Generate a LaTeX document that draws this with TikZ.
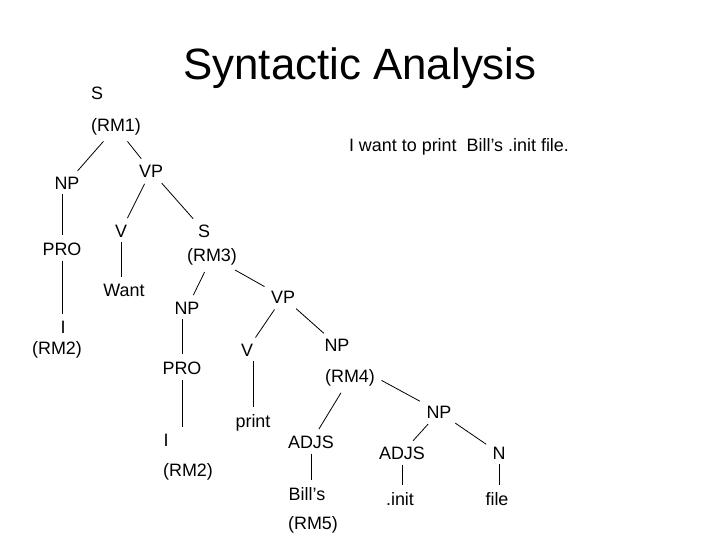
\documentclass[tikz,border=0pt]{standalone}
\usepackage{fontspec}
\setmainfont{Liberation Sans}
\begin{document}
\begin{tikzpicture}
[x=1bp, y=-1bp,
% STYLES
% The word style is used for the categories and words of the tree
word/.style={inner sep=2pt, font=\fontsize{18}{21}\selectfont},
% The branch style is used for the slanted links of a phrase to its parts
branch/.style={line width=0.8bp, shorten <=5bp, shorten >=5bp},
% The stem style is used for the vertical links down to a word
stem/.style={line width=0.8bp, shorten <=3bp, shorten >=5bp}]

\useasboundingbox (0,0) rectangle (720,540);

% Title and sentence
\node [font=\fontsize{44}{50}\selectfont] (title) at (360,68) {Syntactic Analysis};
\node [font=\fontsize{18}{21}\selectfont] (sentence) at (459,147) {I want to print\ \ Bill’s .init file.};

% Draw the main clause
\node [word] (s1) at (97,93) {S};
\node [word] (rm1) at (116,127) {(RM1)};
\node [word] (np1) at (67,183) {NP};
\node [word] (vp1) at (151,171) {VP};
\node [word] (pro1) at (62,249) {PRO};
\node [word] (i1) at (63,327) {I};
\node [word] (rm2a) at (57,350) {(RM2)};
\node [word] (v1) at (121,231) {V};
\node [word] (want) at (124,290) {Want};

% Draw the embedded clause
\node [word] (s3) at (204,231) {S};
\node [word] (rm3) at (212,257) {(RM3)};
\node [word] (np2) at (187,308) {NP};
\node [word] (vp2) at (283,297) {VP};
\node [word] (pro2) at (182,368) {PRO};
\node [word] (i2) at (166,440) {I};
\node [word] (rm2b) at (188,472) {(RM2)};
\node [word] (v2) at (247,350) {V};
\node [word] (print) at (253,423) {print};

% Draw the object
\node [word] (np3) at (337,345) {NP};
\node [word] (rm4) at (350,378) {(RM4)};
\node [word] (adjs1) at (311,442) {ADJS};
\node [word] (bills) at (307,494) {Bill’s};
\node [word] (rm5) at (313,525) {(RM5)};
\node [word] (np4) at (439,412) {NP};
\node [word] (adjs2) at (402,453) {ADJS};
\node [word] (init) at (400,499) {.init};
\node [word] (n) at (499,453) {N};
\node [word] (file) at (497,499) {file};

% Draw the links between phrases
\path[branch]
    (rm1) edge (np1)
    (rm1) edge (vp1)
    (vp1) edge (v1)
    (vp1) edge (s3)
    (rm3) edge (np2)
    (rm3) edge (vp2)
    (vp2) edge (v2)
    (vp2) edge (np3)
    (rm4) edge (adjs1)
    (rm4.east) edge (np4.north west)
    (np4) edge (adjs2)
    (np4) edge (n);

% Draw the links down to the words
\path[stem]
    (pro1 |- np1.south) edge (pro1.north)
    (pro1.south) edge (pro1 |- i1.north)
    (v1.south) edge (v1 |- want.north)
    (pro2 |- np2.south) edge (pro2.north)
    (pro2.south) edge (pro2 |- i2.north)
    (print |- v2.south) edge (print.north)
    (adjs1.south) edge (adjs1 |- bills.north)
    (adjs2.south) edge (adjs2 |- init.north)
    (n.south) edge (n |- file.north);

\end{tikzpicture}
\end{document}
